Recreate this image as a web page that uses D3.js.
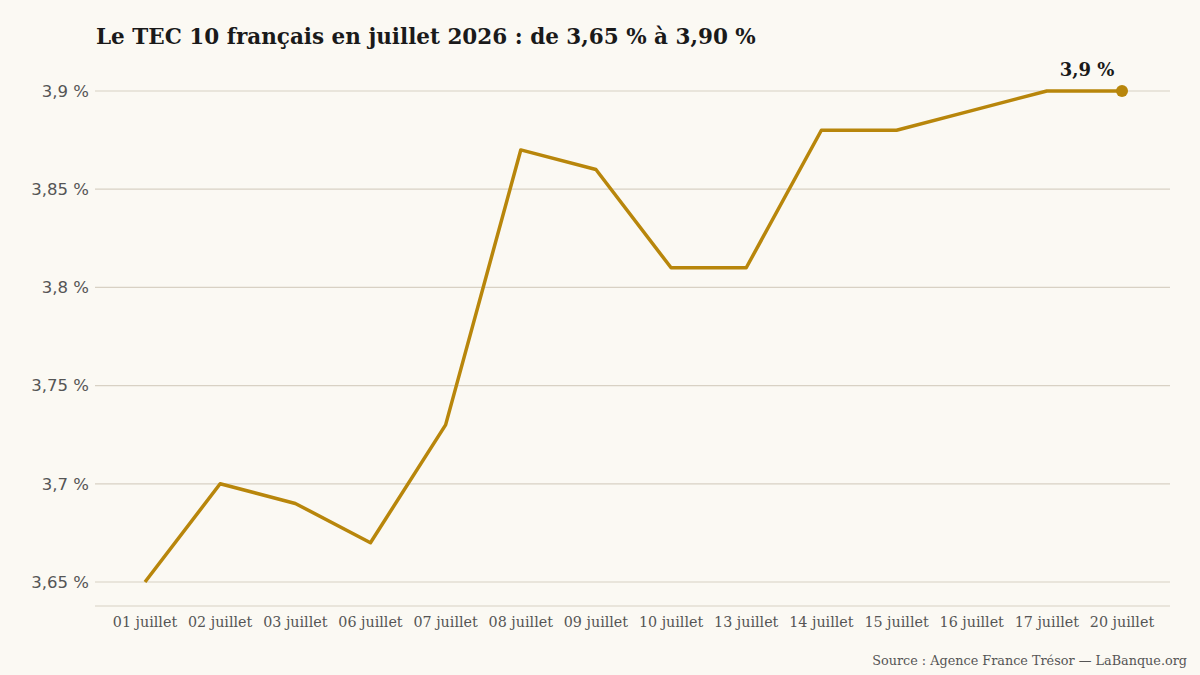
<!DOCTYPE html>
<html><head><meta charset="utf-8">
<script src="https://cdn.jsdelivr.net/npm/d3@7"></script>
<style>
html,body{margin:0;padding:0;background:#fbf9f3;}
</style></head>
<body>
<svg id="c" width="1200" height="675"></svg>
<script>
const categories = ["01 juillet","02 juillet","03 juillet","06 juillet","07 juillet","08 juillet","09 juillet","10 juillet","13 juillet","14 juillet","15 juillet","16 juillet","17 juillet","20 juillet"];
const values = [3.65,3.70,3.69,3.67,3.73,3.87,3.86,3.81,3.81,3.88,3.88,3.89,3.90,3.90];
const yTicks = [3.65,3.70,3.75,3.80,3.85,3.90];
const title = "Le TEC 10 français en juillet 2026 : de 3,65 % à 3,90 %";
const source = "Source : Agence France Trésor — LaBanque.org";

const W=1200,H=675;
const svg=d3.select("#c");
svg.append("rect").attr("width",W).attr("height",H).attr("fill","#fbf9f3");
const serif="Georgia, 'DejaVu Serif', 'Liberation Serif', serif";
const sans="'DejaVu Sans', Verdana, sans-serif";
const plotL=95, plotR=1170;
const x=d3.scalePoint().domain(categories).range([145,1122]);
const y=d3.scaleLinear().domain([3.65,3.90]).range([582,91]);
const fmt=v=>d3.format(".2~f")(v).replace(".",",")+" %";

// grid
const g=svg.append("g");
g.selectAll("line.grid").data(yTicks).join("line")
 .attr("x1",plotL).attr("x2",plotR).attr("y1",d=>y(d)).attr("y2",d=>y(d))
 .attr("stroke","#d8d1c4").attr("stroke-width",1.2);
g.selectAll("text.yt").data(yTicks).join("text")
 .attr("x",89).attr("y",d=>y(d)).attr("dy","0.35em").attr("text-anchor","end")
 .attr("font-family",sans).attr("font-size",16.5).attr("fill","#555")
 .text(fmt);
// bottom axis line
const yAxisLine=y(3.65)+24;
g.append("line").attr("x1",plotL).attr("x2",plotR).attr("y1",yAxisLine).attr("y2",yAxisLine)
 .attr("stroke","#d8d1c4").attr("stroke-width",1.2);
g.selectAll("text.xt").data(categories).join("text")
 .attr("x",d=>x(d)).attr("y",yAxisLine+21).attr("text-anchor","middle")
 .attr("font-family",serif).attr("font-size",14.3).attr("fill","#555")
 .text(d=>d);

// line
const line=d3.line().x((d,i)=>x(categories[i])).y(d=>y(d));
svg.append("path").datum(values).attr("d",line).attr("fill","none")
 .attr("stroke","#b8860b").attr("stroke-width",3.5).attr("stroke-linejoin","round");
const last=values.length-1;
svg.append("circle").attr("cx",x(categories[last])).attr("cy",y(values[last])).attr("r",6).attr("fill","#b8860b");
svg.append("text").attr("x",x(categories[last])-35).attr("y",y(values[last])-15)
 .attr("text-anchor","middle").attr("font-family",serif).attr("font-weight","bold")
 .attr("font-size",18).attr("fill","#1a1a1a").text(d3.format(".1f")(values[last]).replace(".",",")+" %");

svg.append("text").attr("x",96).attr("y",44).attr("font-family",serif).attr("font-weight","bold")
 .attr("font-size",21.5).attr("fill","#1a1a1a").text(title);
svg.append("text").attr("x",1187).attr("y",665).attr("text-anchor","end").attr("font-family",serif)
 .attr("font-size",12.8).attr("fill","#555").text(source);
</script>
</body></html>
